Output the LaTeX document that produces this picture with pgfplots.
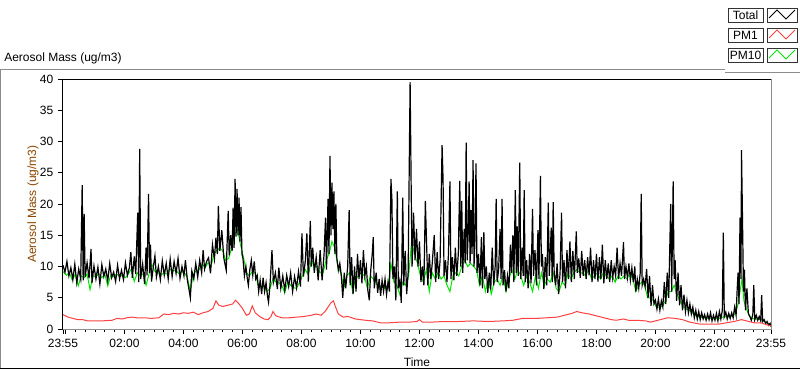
\documentclass[border=0pt]{standalone}
\usepackage{pgfplots}
\pgfplotsset{compat=1.18}
\usepackage{fontspec}
\setmainfont{Liberation Sans}
\definecolor{pmred}{RGB}{255,64,64}
\definecolor{pmgreen}{RGB}{0,230,0}
\definecolor{labbrown}{RGB}{140,70,0}
\definecolor{frgray}{RGB}{140,140,140}
\begin{document}
\begin{tikzpicture}[x=0.75pt,y=0.75pt]
\useasboundingbox (0,0) rectangle (800,369);
% outer frame
\draw[frgray,line width=0.75pt] (0,300) -- (725,300);
\draw[frgray,line width=0.75pt] (725,297) -- (800,297);
\draw[frgray,line width=0.75pt] (0.5,300) -- (0.5,1);
\draw[black,line width=0.75pt] (0,1) -- (800,1);
% title
\node[anchor=west,inner sep=0pt,font=\fontsize{9}{10}\selectfont] at (4,311) {Aerosol Mass (ug/m3)};
% legend
\foreach \yt/\lab/\col in {8/Total/black,28/PM1/pmred,48/PM10/pmgreen}{
  \draw[black!80,line width=0.75pt] (728,369-\yt) rectangle (763,369-\yt-14);
  \node[font=\fontsize{9}{10}\selectfont,inner sep=0pt] at (745.5,369-\yt-7) {\lab};
  \draw[black!80,line width=0.75pt] (767,369-\yt) rectangle (797,369-\yt-14);
  \draw[\col,line width=0.6pt] (769,369-\yt-10) -- (777,369-\yt-2) -- (786,369-\yt-11) -- (795,369-\yt-2);
}
\begin{axis}[
  at={(47.25pt,30pt)}, anchor=south west,
  scale only axis, width=531pt, height=187.5pt,
  xmin=-5, xmax=1435, ymin=0, ymax=40,
  axis line style={black,line width=0.75pt},
  xtick={-5,120,240,360,480,600,720,840,960,1080,1200,1320,1435},
  xticklabels={23:55,02:00,04:00,06:00,08:00,10:00,12:00,14:00,16:00,18:00,20:00,22:00,23:55},
  extra x ticks={0}, extra x tick labels={},
  minor xtick={20,40,...,1420},
  ytick={0,5,...,40},
  tick align=outside, xtick pos=left, ytick pos=left,
  major tick length=3.75pt, minor tick length=2.25pt,
  every tick/.style={black,line width=0.6pt},
  tick label style={font=\fontsize{9}{10}\selectfont},
  /pgf/number format/assume math mode=true,
  ylabel={Aerosol Mass (ug/m3)},
  ylabel style={at={(axis description cs:0,0.5)},anchor=center,rotate=0,yshift=22.5pt,color=labbrown,font=\fontsize{9}{10}\selectfont},
  xlabel={Time},
  xlabel style={at={(axis description cs:0.5,0)},anchor=center,yshift=-24.75pt,font=\fontsize{9}{10}\selectfont},
  clip=true,
]
% PM10
\addplot[pmgreen,line width=0.75pt] coordinates {
(-5,9.2) (2,8.6) (8,9.0) (14,7.8) (20,8.8) (26,6.9) (32,8.5) (38,8.2) (44,8.8) (50,6.3) (56,8.5) (62,8.4) (68,8.8) (74,8.2) (80,8.8) (86,6.9) (92,8.6) (98,8.4) (104,8.8) (110,8.4) (116,8.6) (122,8.2) (128,8.8) (134,9.6) (140,7.6) (146,9.0) (152,8.6) (158,8.8) (164,7.0) (170,8.8) (176,10.3) (182,9.2) (188,9.0) (194,8.6) (200,9.0) (206,8.8) (212,9.6) (218,9.2) (224,9.5) (230,8.9) (236,9.2) (242,9.0) (248,8.2) (254,6.0) (260,8.8) (266,9.3) (272,9.5) (278,10.4) (284,9.8) (290,10.6)
(296,10.0) (302,12.0) (308,12.5) (314,13.0) (320,12.5) (326,11.0) (332,11.3) (338,13.0) (344,15.0) (350,16.0) (356,13.5) (362,11.5) (368,9.0) (374,8.5) (380,9.2) (386,9.0) (392,7.0) (398,6.8) (404,6.8) (410,6.0) (416,6.5) (422,8.0) (428,7.5) (434,7.4) (440,7.0) (446,5.8) (452,7.5) (458,7.0) (464,6.6) (470,6.5) (476,7.5) (482,8.5) (488,9.5) (494,8.6) (500,11.0) (506,10.0) (512,10.0) (518,9.0) (524,9.0) (530,11.0) (536,12.0) (542,14.0) (548,13.0) (554,10.0) (560,9.0) (566,6.5)
(572,8.5) (578,9.0) (584,6.0) (590,8.0) (596,8.5) (602,9.0) (608,8.5) (614,6.5) (620,8.5) (626,8.0) (632,7.5) (638,6.5) (644,7.0) (650,6.5) (656,7.0) (662,10.5) (668,7.5) (674,7.0) (680,5.5) (686,7.5) (692,7.0) (698,8.5) (704,14.0) (710,12.0) (716,10.5) (722,8.5) (728,7.5) (734,9.5) (740,6.0) (746,9.0) (752,8.0) (758,9.0) (764,8.0) (770,8.5) (776,7.0) (782,6.0) (788,8.5) (794,9.0) (800,8.5) (806,10.0) (812,11.0) (818,10.0) (824,10.5) (830,10.0) (836,9.5) (842,7.0) (848,8.5)
(854,6.0) (860,8.0) (866,5.6) (872,7.5) (878,8.0) (884,7.0) (890,8.5) (896,6.0) (902,8.0) (908,9.5) (914,8.0) (920,9.5) (926,8.5) (932,7.0) (938,8.5) (944,7.5) (950,6.0) (956,8.5) (962,6.5) (968,9.0) (974,7.0) (980,8.0) (986,7.5) (992,9.0) (998,6.5) (1004,6.0) (1010,7.5) (1016,7.0) (1022,9.0) (1028,8.0) (1034,9.0) (1040,9.5) (1046,9.0) (1052,9.0) (1058,8.5) (1064,9.5) (1070,8.0) (1076,8.5) (1082,9.0) (1088,8.0) (1094,9.0) (1100,8.5) (1106,8.0) (1112,8.5) (1118,7.5) (1124,8.5) (1130,8.0) (1136,8.5)
(1142,8.0) (1148,9.0) (1154,8.0) (1160,6.0) (1166,7.0) (1172,7.5) (1178,7.0) (1184,5.0) (1190,5.0) (1196,4.5) (1202,3.5) (1208,3.5) (1214,3.6) (1220,4.5) (1226,6.0) (1232,6.0) (1238,7.0) (1244,5.5) (1250,4.5) (1256,3.6) (1262,3.2) (1268,3.0) (1274,2.7) (1280,2.2) (1286,2.0) (1292,1.9) (1298,1.8) (1304,1.7) (1310,1.8) (1316,1.6) (1322,1.7) (1328,1.6) (1334,1.8) (1340,2.0) (1346,1.9) (1352,2.0) (1358,2.1) (1364,2.7) (1368,4.0) (1372,6.0) (1376,8.0) (1380,4.5) (1384,3.5) (1390,2.2) (1396,1.7) (1402,1.6) (1408,1.6) (1414,1.5) (1420,1.3) (1426,1.0) (1432,0.7) (1435,0.4)
};
% Total
\addplot[black,line width=0.9pt] coordinates {
(-5,10.2) (-1,9.1) (3,10.8) (7,8.5) (11,9.8) (15,7.9) (19,10.4) (23,7.4) (27,9.6) (31,8.0) (34,23.0) (36,7.8) (38,18.4) (40,8.3) (44,10.6) (48,8.1) (52,12.8) (54,7.4) (58,10.1) (62,8.0) (66,9.9) (70,7.2) (74,10.3) (78,8.4) (82,9.6) (86,7.7) (90,10.5) (94,8.2) (98,9.1) (102,7.6) (106,10.2) (110,8.0) (114,9.4) (118,7.9) (122,10.6) (126,8.6) (130,9.8) (133,12.3) (136,8.2) (140,11.6) (143,8.8) (147,18.6) (149,7.5) (151,28.8) (153,8.0) (157,10.4) (161,7.2) (164,13.0) (166,8.6) (169,21.6) (171,9.0) (173,13.5) (175,7.6) (179,10.1) (182,11.7) (185,8.3) (189,10.0) (193,7.9) (197,10.9) (201,8.6) (205,10.5) (209,8.0) (213,11.2) (217,8.4) (221,10.8) (225,8.9) (229,11.3) (233,8.1) (237,10.0) (241,8.5) (244,11.0) (248,7.8) (252,6.0) (254,5.0) (257,9.3) (261,8.0) (265,10.5) (269,8.3) (273,11.0) (277,9.0) (280,12.6) (283,9.6) (287,10.8)
(291,11.4) (295,8.9) (299,13.5) (303,11.2) (306,14.6) (309,12.0) (311,19.7) (314,12.5) (318,15.8) (322,11.4) (327,9.4) (331,18.9) (333,11.8) (336,15.0) (339,12.5) (341,19.4) (343,13.0) (345,24.0) (347,14.8) (349,22.4) (351,15.0) (353,21.0) (355,14.0) (357,19.5) (359,12.0) (361,11.3) (364,8.5) (367,10.0) (370,8.0) (372,7.0) (375,9.5) (378,11.0) (381,8.6) (384,10.8) (387,8.0) (390,8.6) (393,6.0) (396,7.8) (399,5.6) (402,8.2) (405,6.0) (408,7.4) (411,5.2) (413,4.3) (416,7.0) (420,12.6) (423,7.5) (427,9.0) (431,6.4) (434,9.8) (438,6.5) (442,8.5) (446,6.2) (450,8.6) (454,6.8) (458,9.0) (462,6.0) (466,8.4) (470,6.6) (474,9.2) (478,6.8) (481,15.3) (484,8.4) (488,11.0) (491,15.3) (494,7.6) (498,17.3) (500,10.0) (503,13.0) (506,9.0) (510,11.5) (514,7.8) (518,12.6) (522,7.8) (526,12.0) (529,17.8) (531,9.5) (534,20.8) (536,12.0) (538,27.7) (540,15.0) (542,23.4) (544,16.0) (546,22.0) (548,12.0) (550,20.0) (552,11.3) (555,9.4) (558,10.5) (561,8.6) (564,5.0) (567,9.0) (570,6.5)
(574,10.0) (577,19.0) (579,7.0) (582,11.5) (585,5.6) (588,10.0) (591,6.0) (594,12.0) (597,8.0) (600,11.0) (603,7.3) (606,12.6) (609,8.5) (612,10.0) (615,6.2) (618,4.6) (621,9.5) (624,12.0) (626,14.7) (628,6.5) (632,9.0) (635,5.8) (638,8.0) (641,5.3) (644,7.8) (647,6.0) (650,8.0) (653,5.5) (656,7.5) (659,6.0) (662,24.0) (664,20.7) (666,8.0) (669,10.0) (672,4.6) (675,22.0) (677,6.5) (680,7.8) (683,4.2) (686,21.0) (688,7.0) (691,12.5) (694,5.6) (697,9.0) (701,39.5) (703,23.7) (705,10.0) (708,18.6) (711,11.0) (714,16.0) (717,10.0) (720,14.0) (723,7.5) (726,10.0) (729,7.0) (732,20.5) (734,15.0) (737,7.0) (740,12.0) (743,8.0) (746,10.5) (750,15.0) (753,7.5) (756,12.3) (759,8.0) (762,11.0) (766,29.4) (768,24.0) (770,8.5) (773,11.0) (776,7.5) (779,12.0) (782,23.6) (784,8.0) (787,11.5) (790,7.8) (793,13.0) (796,8.5) (799,12.0) (802,23.7) (804,10.0) (806,20.5) (808,9.0) (811,16.0) (813,10.5) (815,29.8) (817,11.0) (819,15.0) (821,23.6) (823,10.5) (825,19.0) (827,12.0) (829,27.0) (831,10.0) (833,14.5) (835,26.5) (837,9.0) (840,12.0) (843,7.0) (846,14.7) (848,6.5) (851,15.5) (853,8.0)
(856,10.0) (859,5.8) (862,9.0) (865,6.3) (868,13.0) (871,7.0) (874,10.0) (876,20.8) (878,7.5) (881,9.5) (884,16.0) (886,8.0) (888,20.8) (890,7.0) (893,9.4) (896,6.0) (899,8.5) (902,6.5) (905,13.5) (907,9.0) (910,15.0) (912,7.5) (915,22.2) (917,9.0) (919,16.4) (921,8.5) (924,26.6) (926,8.0) (929,13.0) (931,8.5) (933,22.2) (935,7.5) (938,11.0) (941,6.5) (944,12.0) (947,7.3) (950,19.2) (952,8.5) (955,12.6) (958,7.0) (961,15.8) (963,8.0) (966,24.5) (968,10.0) (970,12.0) (973,6.4) (976,11.5) (979,7.0) (982,20.2) (984,8.5) (988,16.2) (990,7.5) (992,20.3) (994,9.0) (997,7.0) (1000,10.5) (1003,5.6) (1006,9.0) (1009,18.6) (1011,7.5) (1014,11.0) (1017,6.5) (1020,12.6) (1023,8.0) (1026,14.0) (1029,7.5) (1032,12.5) (1035,8.0) (1039,15.6) (1041,9.0) (1044,11.3) (1047,8.2) (1050,12.5) (1053,8.5) (1056,11.0) (1059,8.0) (1062,11.5) (1065,8.6) (1068,13.0) (1071,7.5) (1074,11.0) (1077,8.0) (1080,12.0) (1083,7.6) (1086,11.5) (1089,8.0) (1092,13.5) (1095,7.3) (1098,11.0) (1101,8.0) (1104,10.5) (1107,7.5) (1110,11.0) (1113,8.2) (1116,10.0) (1119,8.5) (1122,13.0) (1125,8.0) (1128,10.5) (1131,8.5) (1135,13.9) (1137,8.0)
(1140,10.0) (1143,8.2) (1146,10.5) (1149,7.8) (1152,9.8) (1155,7.5) (1158,10.0) (1160,6.0) (1163,8.0) (1166,6.5) (1169,9.0) (1171,21.6) (1173,7.0) (1176,8.0) (1179,6.8) (1182,9.6) (1185,5.0) (1188,8.5) (1191,3.7) (1194,7.0) (1197,4.0) (1200,4.6) (1203,3.2) (1206,4.8) (1209,3.0) (1212,4.5) (1215,3.5) (1218,7.5) (1221,4.0) (1224,9.0) (1227,5.0) (1229,12.6) (1231,20.0) (1233,6.0) (1236,23.6) (1238,8.0) (1240,11.0) (1243,4.5) (1246,9.0) (1249,3.8) (1252,7.0) (1255,3.0) (1258,5.5) (1261,2.8) (1264,4.6) (1267,2.6) (1270,4.0) (1273,2.4) (1276,3.5) (1279,1.8) (1282,3.0) (1285,1.6) (1288,2.8) (1291,1.5) (1294,2.6) (1297,1.6) (1300,2.3) (1303,1.4) (1306,2.4) (1309,1.5) (1312,2.6) (1315,1.3) (1318,2.2) (1321,1.4) (1324,2.5) (1327,1.3) (1330,2.8) (1333,1.6) (1336,3.0) (1338,15.4) (1340,2.0) (1343,2.7) (1346,1.6) (1349,2.5) (1352,1.7) (1355,2.6) (1358,1.8) (1361,3.5) (1364,2.2) (1366,6.0) (1368,9.0) (1370,4.0) (1372,17.8) (1374,8.0) (1375,28.6) (1377,17.8) (1379,6.0) (1381,9.5) (1383,3.0) (1386,6.5) (1389,2.5) (1392,2.0) (1395,1.4) (1398,2.3) (1400,7.0) (1402,1.5) (1405,2.2) (1408,1.4) (1411,2.0) (1414,1.3) (1416,5.4) (1418,1.2) (1421,1.5) (1424,0.9) (1427,1.2) (1430,0.6) (1433,0.9) (1435,0.4)
};
% PM1
\addplot[pmred,line width=0.75pt] coordinates {
(-5,2.3) (5,1.9) (15,1.7) (25,1.5) (35,1.5) (45,1.3) (55,1.3) (65,1.3) (75,1.3) (85,1.35) (95,1.4) (105,1.7) (115,1.6) (125,1.8) (135,1.9) (145,1.8) (160,1.8) (175,1.7) (190,1.8) (200,2.4) (210,2.3) (220,2.5) (230,2.4) (240,2.6) (250,2.5) (260,2.7) (270,2.3) (280,2.6) (290,2.8) (300,3.3) (306,4.5) (312,3.8) (320,3.6) (330,3.8) (340,4.0) (346,4.6) (352,4.1) (360,3.3) (368,2.2) (374,2.4) (380,3.7) (386,2.6) (395,2.0) (404,1.6) (412,1.5) (418,2.0) (422,2.8) (428,2.1) (440,1.8) (455,1.8) (470,1.9) (485,2.0) (500,2.2) (510,2.4) (520,2.2) (528,2.8) (534,3.5) (540,4.2) (545,4.5) (549,3.6) (555,2.4) (565,1.9) (575,2.0) (590,1.6) (610,1.4) (625,1.3) (640,1.0) (660,1.0) (680,1.1) (700,1.1) (715,1.2) (720,1.5) (726,1.1) (745,1.1) (770,1.2) (800,1.2) (830,1.3) (860,1.2) (890,1.3) (910,1.4) (930,1.7) (960,1.7) (980,1.8) (1000,1.9) (1015,2.2) (1030,2.5) (1040,2.8) (1050,2.6) (1065,2.4) (1080,2.1) (1095,1.8) (1110,1.5) (1120,1.4) (1135,1.6) (1145,1.4) (1160,1.4) (1180,1.3) (1190,1.1) (1200,1.3) (1215,1.6) (1225,1.8) (1240,1.7) (1255,1.5) (1270,1.1) (1290,0.8) (1310,0.8) (1330,0.8) (1345,1.0) (1360,1.2) (1375,1.5) (1385,1.3) (1400,1.0) (1415,1.0) (1425,0.7) (1435,0.5)
};
\end{axis}
\draw[frgray,line width=0.75pt] (63,40) -- (771,40) -- (771,290);
\end{tikzpicture}
\end{document}
